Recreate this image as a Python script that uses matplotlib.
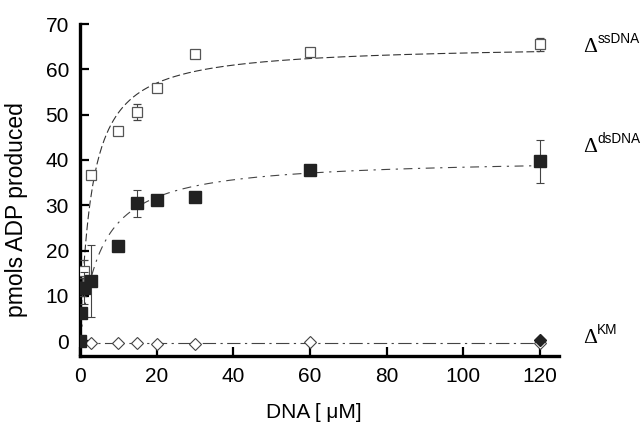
import numpy as np
import matplotlib.pyplot as plt

# data
conc_ss = [0, 0.5, 1, 3, 10, 15, 20, 30, 60, 120]
adp_ss = [0, 12, 15.5, 36.6, 46.4, 50.6, 55.8, 63.4, 63.8, 65.5]
err_ss = [0, 2, 2.5, 0.8, 0.8, 1.7, 0.8, 0.8, 0.8, 1.5]

conc_ds = [0, 0.3, 1, 3, 10, 15, 20, 30, 60, 120]
adp_ds = [0, 6.2, 11.7, 13.3, 21, 30.4, 31.1, 31.8, 37.8, 39.7]
err_ds = [0, 1, 3.5, 8, 0.5, 3, 0.5, 0.5, 0.6, 4.8]

conc_km = [0, 3, 10, 15, 20, 30, 60, 120]
adp_km = [0, -0.4, -0.4, -0.4, -0.6, -0.6, -0.3, -0.5]
conc_km2 = [0, 120]
adp_km2 = [0, 0.2]

# Michaelis-Menten fit parameters (Vmax, Km) estimated from the curves
fit_ss = (65.5, 3.0)
fit_ds = (40.5, 5.5)
fit_km = -0.4

labels = ['ssDNA', 'dsDNA', 'KM']
label_y = [63.8, 41.7, -0.4]

fig = plt.figure(figsize=(6.42, 4.36), dpi=100)
ax = fig.add_axes([80 / 642, 1 - 355.6 / 436, 479 / 642, 331.6 / 436])

xs = np.linspace(0, 120, 400)
ax.plot(xs, fit_ss[0] * xs / (fit_ss[1] + xs), color='#333333', lw=0.8,
        ls=(0, (7, 3)), zorder=1)
ax.plot(xs, fit_ds[0] * xs / (fit_ds[1] + xs), color='#444444', lw=0.8,
        ls=(0, (8, 5, 2, 5)), zorder=1)
ax.plot([0, 120], [fit_km, fit_km], color='#444444', lw=0.8,
        ls=(0, (12, 4, 2, 4)), zorder=1)

ax.errorbar(conc_ss, adp_ss, yerr=err_ss, fmt='s', ms=7, mfc='white',
            mec='#555555', mew=0.9, ecolor='#444444', elinewidth=0.8,
            capsize=3, capthick=0.8, zorder=3)
ax.errorbar(conc_ds, adp_ds, yerr=err_ds, fmt='s', ms=8, mfc='#222222',
            mec='#222222', ecolor='#444444', elinewidth=0.8,
            capsize=3, capthick=0.8, zorder=4)
ax.plot(conc_km, adp_km, 'D', ms=6, mfc='white', mec='#444444', mew=0.8,
        zorder=3)
ax.plot(conc_km2, adp_km2, 'D', ms=6, mfc='#222222', mec='#222222', zorder=4)

ax.set_xlim(0, 125)
ax.set_ylim(-3.2, 70)
ax.set_xticks([0, 20, 40, 60, 80, 100, 120])
ax.set_yticks([0, 10, 20, 30, 40, 50, 60, 70])
for s in ['top', 'right']:
    ax.spines[s].set_visible(False)
for s in ['left', 'bottom']:
    ax.spines[s].set_linewidth(2.4)
ax.tick_params(direction='in', length=6.5, width=1.6, labelsize=15, pad=8,
               colors='black')
for t in ax.get_xticklabels() + ax.get_yticklabels():
    t.set_family('Liberation Sans')

# right side labels
for lab, y in zip(labels, label_y):
    ax.text(131.3, y, '\u0394', fontsize=15.5, family='Liberation Serif',
            va='baseline', ha='left', clip_on=False)
    ax.annotate(lab, xy=(131.3, y), xycoords='data', xytext=(10.2, 6.5),
                textcoords='offset points', fontsize=9.8,
                family='Liberation Sans', va='baseline', ha='left',
                annotation_clip=False)

fig.text(17 / 642, 1 - 210 / 436, 'pmols ADP produced', rotation=90,
         ha='center', va='center', fontsize=16.5, family='Liberation Sans')
fig.text(314 / 642, 1 - 412 / 436, 'DNA [ \u03bcM]', ha='center',
         va='center', fontsize=15, family='Liberation Sans')

fig.savefig('out.png', dpi=100)
